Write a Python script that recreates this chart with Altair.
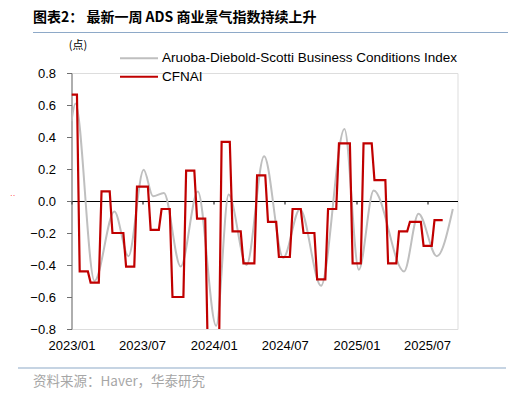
import altair as alt
import pandas as pd
import numpy as np
import calendar

# ---------------- data ----------------
ads_name = "Aruoba-Diebold-Scotti Business Conditions Index"
cfnai_name = "CFNAI"

ads_dates = ["2023-01-01", "2023-01-11", "2023-03-01", "2023-04-21", "2023-05-27",
             "2023-07-05", "2023-07-29", "2023-08-26", "2023-10-08", "2023-11-21",
             "2024-01-07", "2024-02-08", "2024-03-25", "2024-05-09", "2024-06-27",
             "2024-08-09", "2024-10-02", "2024-12-01", "2025-01-07", "2025-02-14",
             "2025-05-03", "2025-06-09", "2025-07-26", "2025-09-05"]
ads_values = [0.50, 0.61, -0.50, -0.065, -0.345,
              0.195, 0.03, 0.05, -0.41, 0.06,
              -0.78, 0.04, -0.40, 0.28, -0.355,
              -0.05, -0.53, 0.45, -0.43, 0.066,
              -0.44, -0.08, -0.345, -0.05]

# monthly CFNAI readings (each centred on the start of its month, Jan 2023 ... Aug 2025)
cfnai_values = [0.665, -0.44, -0.51, 0.06, -0.20, -0.41, 0.09, -0.18, -0.05, -0.60,
                0.19, -0.11, -1.00, 0.37, -0.19, -0.39, 0.16, -0.13, -0.35, -0.05,
                -0.20, -0.49, -0.05, 0.36, -0.39, 0.36, 0.13, -0.39, -0.19, -0.13,
                -0.28, -0.12]

y_ticks = [-0.8, -0.6, -0.4, -0.2, 0.0, 0.2, 0.4, 0.6, 0.8]
x_tick_months = [(2023, 1), (2023, 7), (2024, 1), (2024, 7), (2025, 1), (2025, 7)]

series_names = [ads_name, cfnai_name]
series_colors = ["#bfbfbf", "#c00000"]

title_text = "图表2：  最新一周 ADS 商业景气指数持续上升"
unit_text = "(点)"
source_text = "资料来源：Haver，华泰研究"

# ---------------- tables ----------------
ads_df = pd.DataFrame({"date": ads_dates, "value": ads_values, "series": ads_name})

weeks = pd.date_range("2023-01-01", "2025-08-16", freq="7D")


def month_pos(d):
    return (d.year - 2023) * 12 + d.month - 1 + (d.day - 1) / calendar.monthrange(d.year, d.month)[1]


idx = [min(int(np.floor(month_pos(d) + 0.5)), len(cfnai_values) - 1) for d in weeks]
cf_df = pd.DataFrame({"date": weeks.strftime("%Y-%m-%d"),
                      "value": [cfnai_values[i] for i in idx],
                      "series": cfnai_name})

W, H = 386, 256
FONT = "Liberation Sans"
CJK = "Noto Sans CJK SC"

x_scale = alt.Scale(type="utc",
                    domain=[alt.DateTime(year=2023, month=1, date=1, utc=True),
                            alt.DateTime(year=2025, month=9, date=17, utc=True)])
y_scale = alt.Scale(domain=[-0.8, 0.8], nice=False, zero=False)

x_axis = alt.Axis(values=[alt.DateTime(year=y, month=m, date=1, utc=True) for y, m in x_tick_months],
                  labelExpr="utcFormat(datum.value, '%Y/%m')",
                  title=None, grid=False, offset=-H / 2,
                  domainColor="black", domainWidth=1, tickColor="black", tickSize=3,
                  labelPadding=H / 2 + 7, labelFontSize=13, labelColor="black",
                  labelFont=FONT, labelFlush=False, labelOverlap=False)
y_axis = alt.Axis(values=y_ticks, format=".1f", title=None, grid=False,
                  domainColor="#6f6f6f", tickColor="#6f6f6f", tickSize=5,
                  labelPadding=11, labelFontSize=13, labelColor="black", labelFont=FONT,
                  labelFlush=False)

color = alt.Color("series:N",
                  scale=alt.Scale(domain=series_names, range=series_colors),
                  legend=None)

ads_line = alt.Chart(ads_df).mark_line(interpolate="monotone", strokeWidth=2, clip=True).encode(
    x=alt.X("date:T", scale=x_scale, axis=x_axis),
    y=alt.Y("value:Q", scale=y_scale, axis=y_axis),
    color=color,
)
cf_line = alt.Chart(cf_df).mark_line(strokeWidth=2.2, clip=True).encode(
    x=alt.X("date:T", scale=x_scale, axis=x_axis),
    y=alt.Y("value:Q", scale=y_scale, axis=y_axis),
    color=color,
)

one = pd.DataFrame({"a": [0]})


def label(text, x, y, size, font, color="black", weight="normal", align="left"):
    return alt.Chart(one).mark_text(text=text, fontSize=size, font=font, color=color,
                                    fontWeight=weight, align=align, baseline="middle").encode(
        x=alt.value(x), y=alt.value(y))


def hline(x1, x2, y, col, w=1.2):
    return alt.Chart(one).mark_rule(color=col, strokeWidth=w).encode(
        x=alt.value(x1), x2=alt.value(x2), y=alt.value(y))


# legend (manual, two rows)
legend_layers = []
for i, (name, col) in enumerate(zip(series_names, series_colors)):
    ly = -14.7 + i * 18.4
    legend_layers.append(hline(48.5, 86.5, ly, col, 2))
    legend_layers.append(label(name, 90.5, ly, 13.5, FONT))

title = label(title_text, -38.5, -55.5, 14, CJK, weight="bold")
title_rule = hline(-38.5, 438.5, -40.5, "#8ea9c8")
unit = label(unit_text, 6.5, -27, 11, CJK, align="center")
src_rule = hline(-53.5, 434.5, 295, "#8ea9c8")
src = label(source_text, -38.5, 308.5, 13.5, CJK, color="#a6a6a6")
dots = label("··", -61.5, 123, 8, FONT, color="#ff0000")

chart = alt.layer(ads_line, cf_line, *legend_layers, title, title_rule, unit, src_rule, src, dots).properties(
    width=W, height=H,
    autosize=alt.AutoSizeParams(type="none"),
    padding={"left": 63.5, "top": 65, "right": 50, "bottom": 70},
).configure_view(stroke=None).configure(font=FONT)

chart.save("out.html", embed_options={"renderer": "svg", "actions": False})
